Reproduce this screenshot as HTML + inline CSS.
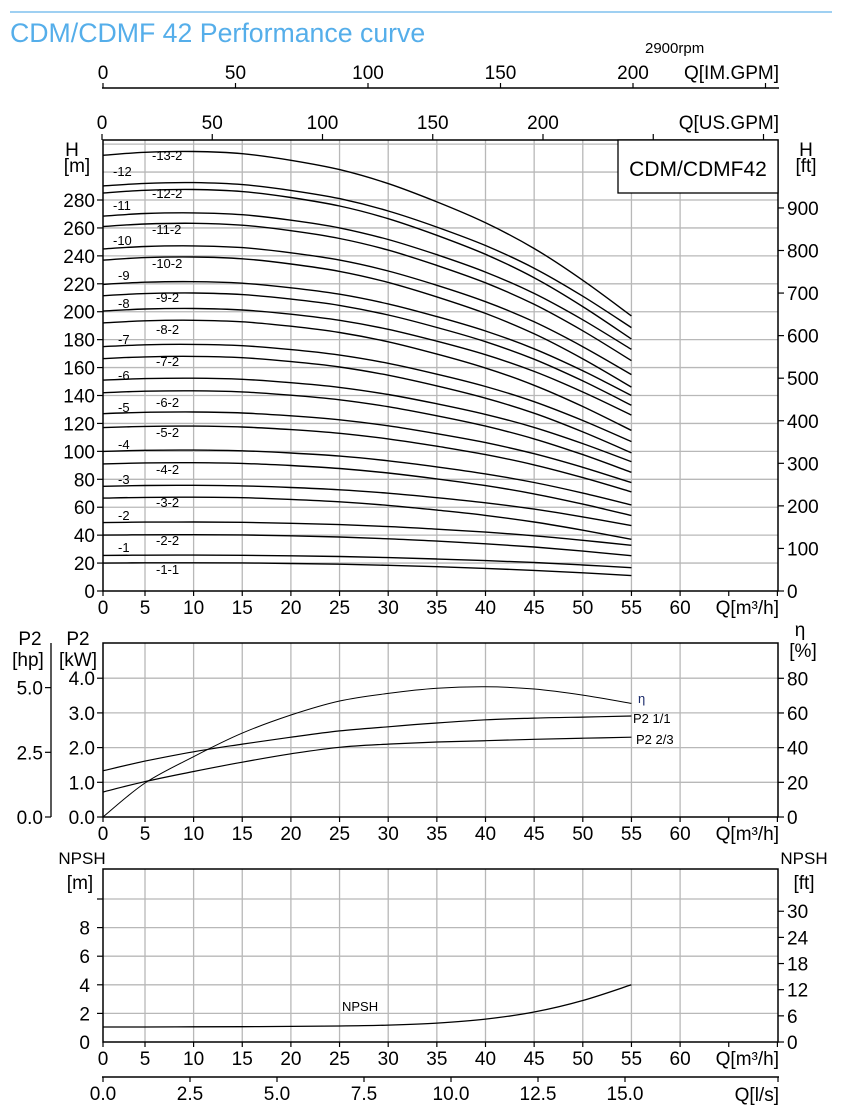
<!DOCTYPE html>
<html><head><meta charset="utf-8"><style>
html,body{margin:0;padding:0;background:#fff;}
svg{display:block;font-family:"Liberation Sans",Arial,sans-serif;}
</style></head><body>
<svg id="chart" width="850" height="1118" viewBox="0 0 850 1118" xmlns="http://www.w3.org/2000/svg">
<line x1="10" y1="12" x2="832" y2="12" stroke="#9fd0f2" stroke-width="2"/>
<text x="10" y="42" font-size="26.7" fill="#55aeea">CDM/CDMF 42 Performance curve</text>
<text x="645" y="53" font-size="15">2900rpm</text>
<g id="g"></g>
</svg>
<script>
// ---------- data ----------
const qPoints = [0,5,10,15,20,25,30,35,40,45,50,55];
const stageLabels = ['-1-1','-1','-2-2','-2','-3-2','-3','-4-2','-4','-5-2','-5','-6-2','-6','-7-2','-7','-8-2','-8','-9-2','-9','-10-2','-10','-11-2','-11','-12-2','-12','-13-2'];
const headAtZero = [20,25.5,40,49,66.5,75,91,100,117,127,142,151,166.4,175,192,200.5,211.5,219.6,237,245,261,268.5,285,290,312];
const headAtMax = [11,16.7,25.3,32.7,37,46.8,54,61.6,71,77.6,85,92.6,99,107,115,126,133,140,146,155,165,173,180.5,188.6,197];
const headDropShape = [0,-0.019,-0.024,-0.010,0.031,0.089,0.176,0.29,0.42,0.58,0.778,1];
const etaValues = [0,19.6,34.8,48.4,58.8,66.9,71.3,74.2,75.1,73.8,70.3,65.5];
const p2FullValues = [1.33,1.61,1.88,2.10,2.30,2.48,2.60,2.71,2.80,2.85,2.88,2.91];
const p2TwoThirdValues = [0.72,1.02,1.31,1.58,1.82,2.01,2.10,2.16,2.20,2.24,2.27,2.30];
const npshValues = [1.05,1.05,1.06,1.07,1.09,1.12,1.18,1.32,1.6,2.1,2.9,4.0];
const qTicks = [0,5,10,15,20,25,30,35,40,45,50,55,60];
const hTicks = [0,20,40,60,80,100,120,140,160,180,200,220,240,260,280];
const ftTicks = [0,100,200,300,400,500,600,700,800,900];
const usTicks = [0,50,100,150,200,250,300];
const imTicks = [0,50,100,150,200,250];
const kwTicks = ['0.0','1.0','2.0','3.0','4.0'];
const hpTicks = ['0.0','2.5','5.0'];
const etaTicks = [0,20,40,60,80];
const npshTicks = [0,2,4,6,8];
const npshFtTicks = [0,6,12,18,24,30];
const lsTicks = ['0.0','2.5','5.0','7.5','10.0','12.5','15.0'];

// ---------- scales ----------
const L=103, R=778, FS=19;
function xQ(q){ return q<=5 ? 103 + q*8.4 : 96.3 + 9.73*q; }
const xIM = v => 103 + 2.65*v;
const xUS = v => 102 + 2.205*v;
const yH = h => 591 - h*1.3964;
const yKW = v => 817 - v*34.7;
const yEta = e => 817 - e*1.734;
const yN = m => 1042 - m*14.3;
const xLs = v => 103 + 34.8*v;

const NS='http://www.w3.org/2000/svg';
const G=document.getElementById('g');
function el(tag, attrs, parent){
  const e=document.createElementNS(NS,tag);
  for(const k in attrs) e.setAttribute(k,attrs[k]);
  (parent||G).appendChild(e); return e;
}
function txt(x,y,s,size,anchor,parent){
  const t=el('text',{x:x,y:y,'font-size':size,'text-anchor':anchor||'start'},parent);
  t.textContent=s; return t;
}
function smooth(pts){
  let d='M'+pts[0][0].toFixed(1)+','+pts[0][1].toFixed(1);
  for(let i=0;i<pts.length-1;i++){
    const p0=pts[Math.max(0,i-1)],p1=pts[i],p2=pts[i+1],p3=pts[Math.min(pts.length-1,i+2)];
    const c1=[p1[0]+(p2[0]-p0[0])/6,p1[1]+(p2[1]-p0[1])/6];
    const c2=[p2[0]-(p3[0]-p1[0])/6,p2[1]-(p3[1]-p1[1])/6];
    d+=' C'+c1[0].toFixed(1)+','+c1[1].toFixed(1)+' '+c2[0].toFixed(1)+','+c2[1].toFixed(1)+' '+p2[0].toFixed(1)+','+p2[1].toFixed(1);
  }
  return d;
}
function vgrid(y0,y1,parent){
  qTicks.slice(1).forEach(q=>{
    const l=el('line',{x1:xQ(q),x2:xQ(q),y1:y0,y2:y1,stroke:'#b8b8b8','stroke-width':1.3},parent);
    
    
  });
}
function qAxis(yb,parent){
  qTicks.concat([65,70]).forEach(q=>{
    el('line',{x1:xQ(q),x2:xQ(q),y1:yb,y2:yb+5,stroke:'#000','stroke-width':1.2},parent);
  });
  qTicks.forEach(q=>{
    const t=txt(xQ(q),yb+23,String(q),FS,'middle',parent);
    
    
  });
  const t=txt(779,yb+23,'Q[m³/h]',FS,'end',parent);
  
  
}

// ---------- top axes ----------
const topAxes=el('g',{});


el('line',{x1:102,x2:779,y1:88,y2:88,stroke:'#000','stroke-width':1.5},topAxes);
imTicks.forEach(v=>{
  const x=xIM(v);
  el('line',{x1:x,x2:x,y1:83,y2:88,stroke:'#000','stroke-width':1.2},topAxes);
  if(v<=200){
    const t=txt(x,79,String(v),FS,'middle',topAxes);
    
    
  }
});
txt(779,79,'Q[IM.GPM]',FS,'end',topAxes);
usTicks.forEach(v=>{
  const x=xUS(v);
  el('line',{x1:x,x2:x,y1:134,y2:140,stroke:'#000','stroke-width':1.2},topAxes);
  if(v<=200){
    const t=txt(x,129,String(v),FS,'middle',topAxes);
    
    
  }
});
txt(779,129,'Q[US.GPM]',FS,'end',topAxes);

// ---------- head chart ----------
const hg=el('g',{});


vgrid(140,591,hg);
for(let h=20;h<=320;h+=20){
  const l=el('line',{x1:L,x2:R,y1:yH(h),y2:yH(h),stroke:'#b8b8b8','stroke-width':1.3},hg);
  
  
}
stageLabels.forEach((lab,i)=>{
  const pts=qPoints.map((q,j)=>[q===0?L:xQ(q), yH(headAtZero[i]-headDropShape[j]*(headAtZero[i]-headAtMax[i]))]);
  const p=el('path',{d:smooth(pts),fill:'none',stroke:'#000','stroke-width':1.4},hg);
  
  
});
const labelPos=[[156,574],[118,552],[156,545],[118,520],[156,507],[118,484],[156,474],[118,449],[156,437],[118,412],[156,407],[118,380],[156,366],[118,344],[156,334],[118,308],[156,302],[118,280],[152,268],[113,245],[152,234],[113,210],[152,198],[113,176],[152,160]];
stageLabels.forEach((lab,i)=>{
  const t=txt(labelPos[i][0],labelPos[i][1],lab,13,'start',hg);
  
  
});
el('rect',{x:L,y:140,width:R-L,height:451,fill:'none',stroke:'#000','stroke-width':1.5},hg);
el('rect',{x:618,y:140,width:160,height:53,fill:'#fff',stroke:'#000','stroke-width':1.3},hg);
const mt=txt(698,176,'CDM/CDMF42',21,'middle',hg);


hTicks.forEach(h=>{
  el('line',{x1:97,x2:L,y1:yH(h),y2:yH(h),stroke:'#000','stroke-width':1.2},hg);
  const t=txt(95,yH(h)+7,String(h),FS,'end',hg);
  
  
});
txt(72,156,'H',FS,'middle',hg); txt(77,172,'[m]',FS,'middle',hg);
ftTicks.forEach(f=>{
  const y=yH(f*0.3048);
  el('line',{x1:R,x2:R+6,y1:y,y2:y,stroke:'#000','stroke-width':1.2},hg);
  const t=txt(787,y+7,String(f),FS,'start',hg);
  
  
});
txt(806,156,'H',FS,'middle',hg); txt(806,172,'[ft]',FS,'middle',hg);
qAxis(591,hg);

// ---------- power / efficiency chart ----------
const pg=el('g',{});


vgrid(643,817,pg);
kwTicks.forEach(k=>{
  const v=parseFloat(k);
  if(v>0){ el('line',{x1:L,x2:R,y1:yKW(v),y2:yKW(v),stroke:'#b8b8b8','stroke-width':1.3},pg); }
  el('line',{x1:97,x2:L,y1:yKW(v),y2:yKW(v),stroke:'#000','stroke-width':1.2},pg);
  const t=txt(95,yKW(v)+7,k,FS,'end',pg);
  
  
});
el('line',{x1:51,x2:51,y1:643,y2:817,stroke:'#000','stroke-width':1.3},pg);
hpTicks.forEach(k=>{
  const y=yKW(parseFloat(k)*0.7457);
  el('line',{x1:45,x2:51,y1:y,y2:y,stroke:'#000','stroke-width':1.2},pg);
  const t=txt(43,y+7,k,FS,'end',pg);
  
  
});
etaTicks.forEach(e=>{
  el('line',{x1:R,x2:R+6,y1:yEta(e),y2:yEta(e),stroke:'#000','stroke-width':1.2},pg);
  const t=txt(787,yEta(e)+7,String(e),FS,'start',pg);
  
  
});
txt(30,645,'P2',FS,'middle',pg); txt(28,666,'[hp]',FS,'middle',pg);
txt(78,645,'P2',FS,'middle',pg); txt(78,666,'[kW]',FS,'middle',pg);
txt(800,636,'η',FS,'middle',pg); txt(803,657,'[%]',FS,'middle',pg);
const etaPath=el('path',{d:smooth(qPoints.map((q,j)=>[q===0?L:xQ(q),yEta(etaValues[j])])),fill:'none',stroke:'#000','stroke-width':1},pg);


const p1=el('path',{d:smooth(qPoints.map((q,j)=>[q===0?L:xQ(q),yKW(p2FullValues[j])])),fill:'none',stroke:'#000','stroke-width':1.2},pg);


const p23=el('path',{d:smooth(qPoints.map((q,j)=>[q===0?L:xQ(q),yKW(p2TwoThirdValues[j])])),fill:'none',stroke:'#000','stroke-width':1.2},pg);


txt(638,703,'η',13,'start',pg).setAttribute('fill','#1a2a6a');
txt(633,723,'P2 1/1',13,'start',pg);
txt(636,744,'P2 2/3',13,'start',pg);
el('rect',{x:L,y:643,width:R-L,height:174,fill:'none',stroke:'#000','stroke-width':1.5},pg);
qAxis(817,pg);

// ---------- NPSH chart ----------
const ng=el('g',{});


vgrid(869,1042,ng);
for(let m=2;m<=10;m+=2){
  el('line',{x1:L,x2:R,y1:yN(m),y2:yN(m),stroke:'#b8b8b8','stroke-width':1.3},ng);
  el('line',{x1:97,x2:L,y1:yN(m),y2:yN(m),stroke:'#000','stroke-width':1.2},ng);
}
npshTicks.forEach(m=>{
  const t=txt(90,yN(m)+7,String(m),FS,'end',ng);
  
  
});
npshFtTicks.forEach(f=>{
  const y=yN(f*0.3048);
  el('line',{x1:R,x2:R+6,y1:y,y2:y,stroke:'#000','stroke-width':1.2},ng);
  const t=txt(787,y+7,String(f),FS,'start',ng);
  
  
});
txt(82,864,'NPSH',17,'middle',ng); txt(80,889,'[m]',FS,'middle',ng);
txt(804,864,'NPSH',17,'middle',ng); txt(804,889,'[ft]',FS,'middle',ng);
const np=el('path',{d:smooth(qPoints.map((q,j)=>[q===0?L:xQ(q),yN(npshValues[j])])),fill:'none',stroke:'#000','stroke-width':1.3},ng);


txt(342,1011,'NPSH',13,'start',ng);
el('rect',{x:L,y:869,width:R-L,height:173,fill:'none',stroke:'#000','stroke-width':1.5},ng);
qAxis(1042,ng);

// ---------- l/s axis ----------
const lg=el('g',{});


el('line',{x1:102,x2:779,y1:1077,y2:1077,stroke:'#000','stroke-width':1.5},lg);
lsTicks.forEach(v=>{
  const x=xLs(parseFloat(v));
  el('line',{x1:x,x2:x,y1:1077,y2:1082,stroke:'#000','stroke-width':1.2},lg);
  const t=txt(x,1100,v,FS,'middle',lg);
  
  
});
el('line',{x1:778,x2:778,y1:1077,y2:1082,stroke:'#000','stroke-width':1.2},lg);
txt(779,1101,'Q[l/s]',FS,'end',lg);
</script>
</body></html>
